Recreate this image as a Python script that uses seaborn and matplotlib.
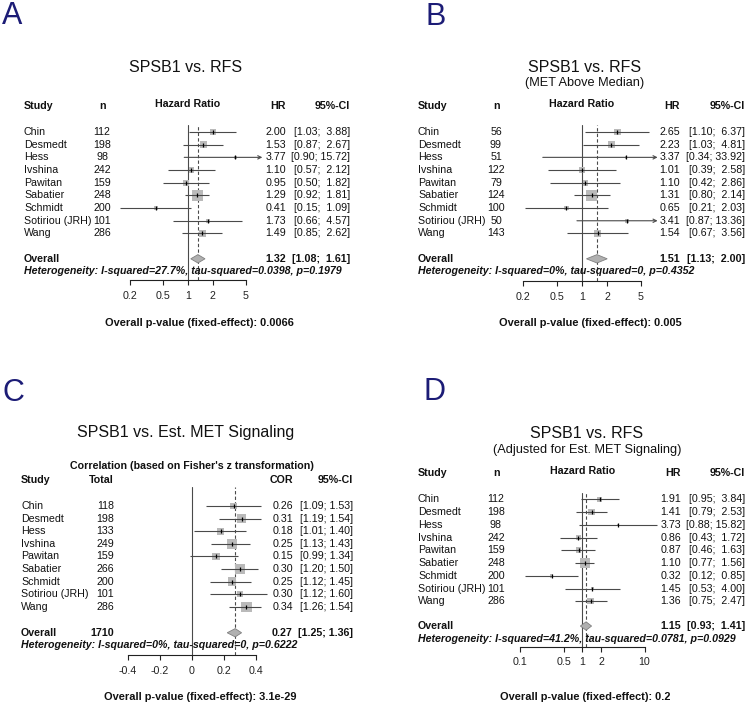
import numpy as np
import pandas as pd
import matplotlib.pyplot as plt
import matplotlib.transforms as mtransforms
from matplotlib.ticker import NullLocator
import seaborn as sns

studies = ['Chin', 'Desmedt', 'Hess', 'Ivshina', 'Pawitan', 'Sabatier', 'Schmidt', 'Sotiriou (JRH)', 'Wang']

# panel A - SPSB1 vs. RFS
n_a = [112, 198, 98, 242, 159, 248, 200, 101, 286]
hr_a = [2.00, 1.53, 3.77, 1.10, 0.95, 1.29, 0.41, 1.73, 1.49]
lo_a = [1.03, 0.87, 0.90, 0.57, 0.50, 0.92, 0.15, 0.66, 0.85]
hi_a = [3.88, 2.67, 15.72, 2.12, 1.82, 1.81, 1.09, 4.57, 2.62]
overall_a = (1.32, 1.08, 1.61)
het_a = 'Heterogeneity: I-squared=27.7%, tau-squared=0.0398, p=0.1979'
pval_a = '0.0066'

# panel B - SPSB1 vs. RFS (MET above median)
n_b = [56, 99, 51, 122, 79, 124, 100, 50, 143]
hr_b = [2.65, 2.23, 3.37, 1.01, 1.10, 1.31, 0.65, 3.41, 1.54]
lo_b = [1.10, 1.03, 0.34, 0.39, 0.42, 0.80, 0.21, 0.87, 0.67]
hi_b = [6.37, 4.81, 33.92, 2.58, 2.86, 2.14, 2.03, 13.36, 3.56]
overall_b = (1.51, 1.13, 2.00)
het_b = 'Heterogeneity: I-squared=0%, tau-squared=0, p=0.4352'
pval_b = '0.005'

# panel C - SPSB1 vs. Est. MET signaling (correlation)
n_c = [118, 198, 133, 249, 159, 266, 200, 101, 286]
total_c = 1710
cor_c = [0.26, 0.31, 0.18, 0.25, 0.15, 0.30, 0.25, 0.30, 0.34]
lo_c = [0.09, 0.17, 0.01, 0.12, -0.01, 0.18, 0.11, 0.11, 0.23]
hi_c = [0.43, 0.43, 0.34, 0.36, 0.29, 0.41, 0.37, 0.47, 0.43]
ci_text_c = ['[1.09; 1.53]', '[1.19; 1.54]', '[1.01; 1.40]', '[1.13; 1.43]', '[0.99; 1.34]',
             '[1.20; 1.50]', '[1.12; 1.45]', '[1.12; 1.60]', '[1.26; 1.54]']
overall_c = (0.27, 0.22, 0.31)
overall_ci_text_c = '[1.25; 1.36]'
het_c = 'Heterogeneity: I-squared=0%, tau-squared=0, p=0.6222'
pval_c = '3.1e-29'

# panel D - SPSB1 vs. RFS adjusted for Est. MET signaling
n_d = [112, 198, 98, 242, 159, 248, 200, 101, 286]
hr_d = [1.91, 1.41, 3.73, 0.86, 0.87, 1.10, 0.32, 1.45, 1.36]
lo_d = [0.95, 0.79, 0.88, 0.43, 0.46, 0.77, 0.12, 0.53, 0.75]
hi_d = [3.84, 2.53, 15.82, 1.72, 1.63, 1.56, 0.85, 4.00, 2.47]
overall_d = (1.15, 0.93, 1.41)
het_d = 'Heterogeneity: I-squared=41.2%, tau-squared=0.0781, p=0.0929'
pval_d = '0.2'

sns.set_theme(style='white')
plt.rcParams['font.family'] = ['Liberation Sans', 'DejaVu Sans']

W, H = 750, 706
fig = plt.figure(figsize=(7.5, 7.06), dpi=100)

SQ = '#bababa'
LINE = '#4a4a4a'
NAVY = '#1c1c76'
FS = 7.7


def fx(px):
    return px / W


def fy(py):
    return 1 - py / H


def make_ax(x0, x1, ytop, ybot, row0, step, ref_px, scale, log=True):
    ax = fig.add_axes([fx(x0), fy(ybot), (x1 - x0) / W, (ybot - ytop) / H])
    ax.patch.set_alpha(0)
    if log:
        ax.set_xscale('log')
        xlim = (10 ** ((x0 - ref_px) / scale), 10 ** ((x1 - ref_px) / scale))
    else:
        xlim = ((x0 - ref_px) / scale, (x1 - ref_px) / scale)
    ylim = ((ybot - row0) / step, (ytop - row0) / step)
    return ax, xlim, ylim


def col_text(ax, px, row, s, ha='left', bold=False, italic=False):
    tr = mtransforms.blended_transform_factory(fig.transFigure, ax.transData)
    ax.text(fx(px), row, s, transform=tr, ha=ha, va='center', fontsize=FS,
            fontweight='bold' if bold else 'normal', fontstyle='italic' if italic else 'normal',
            clip_on=False, color='#111111')


def forest(ax, xlim, ylim, est, lo, hi, w, overall, ov_row, ref, ticks, ticklabels,
           max_side, clip=None):
    rows = np.arange(len(est))
    for r, l, h in zip(rows, lo, hi):
        if clip is not None and h > clip:
            ax.annotate('', xy=(clip, r), xytext=(l, r),
                        arrowprops=dict(arrowstyle='->', color=LINE, lw=0.8,
                                        shrinkA=0, shrinkB=0, mutation_scale=6), zorder=2)
        else:
            ax.plot([l, h], [r, r], color=LINE, lw=0.8, solid_capstyle='butt', zorder=2)
    df = pd.DataFrame({'est': est, 'row': rows, 'w': w})
    sns.scatterplot(data=df, x='est', y='row', size='w', sizes=(0, (max_side * 0.72) ** 2),
                    size_norm=(0, max(w)), marker='s', color=SQ, linewidth=0,
                    legend=False, ax=ax, zorder=1)
    ax.scatter(est, rows, marker='|', s=6, color='black', linewidths=0.9, zorder=3)
    e, l, h = overall
    ax.fill([l, e, h, e], [ov_row, ov_row - 0.33, ov_row, ov_row + 0.33],
            color='#b0b0b0', ec='#808080', lw=0.6, zorder=2)
    ax.axvline(ref, color=LINE, lw=0.8, zorder=0)
    ax.axvline(e, color=LINE, lw=0.8, ls=(0, (3, 2)), zorder=0)
    ax.set_xlim(xlim)
    ax.set_ylim(ylim)
    ax.set_xlabel('')
    ax.set_ylabel('')
    ax.set_yticks([])
    ax.set_xticks(ticks)
    ax.set_xticklabels(ticklabels)
    ax.xaxis.set_minor_locator(NullLocator())
    for s in ['top', 'right', 'left']:
        ax.spines[s].set_visible(False)
    ax.spines['bottom'].set_bounds(ticks[0], ticks[-1])
    ax.spines['bottom'].set_color('#222222')
    ax.spines['bottom'].set_linewidth(0.8)
    ax.tick_params(axis='x', bottom=True, length=3.6, width=0.8, color='#222222',
                   labelsize=FS, labelcolor='#222222', pad=4, direction='out')


def hr_weights(lo, hi):
    se = (np.log(hi) - np.log(lo)) / 3.92
    return list(1 / se ** 2)


def fmt_ci(l, h):
    return f'[{l:.2f}; {h:5.2f}]'


def hr_panel(x0, x1, ytop, ybot, row0, step, ref_px, scale, est, lo, hi, n, overall, ov_row,
             het_row, het, xs, ticks, ticklabels, max_side, clip, head_row, hr_head_row):
    ax, xlim, ylim = make_ax(x0, x1, ytop, ybot, row0, step, ref_px, scale)
    forest(ax, xlim, ylim, est, lo, hi, hr_weights(lo, hi), overall, ov_row, 1,
           ticks, ticklabels, max_side, clip)
    x_study, x_n, x_hr, x_ci = xs
    col_text(ax, x_study, head_row, 'Study', bold=True)
    col_text(ax, x_n, head_row, 'n', ha='center', bold=True)
    col_text(ax, ref_px, hr_head_row, 'Hazard Ratio', ha='center', bold=True)
    col_text(ax, x_hr, head_row, 'HR', ha='right', bold=True)
    col_text(ax, x_ci, head_row, '95%-CI', ha='right', bold=True)
    for r, (s, k, e, l, h) in enumerate(zip(studies, n, est, lo, hi)):
        col_text(ax, x_study, r, s)
        col_text(ax, x_n, r, str(k), ha='center')
        col_text(ax, x_hr, r, f'{e:.2f}', ha='right')
        col_text(ax, x_ci, r, fmt_ci(l, h), ha='right')
    e, l, h = overall
    col_text(ax, x_study, ov_row, 'Overall', bold=True)
    col_text(ax, x_hr, ov_row, f'{e:.2f}', ha='right', bold=True)
    col_text(ax, x_ci, ov_row, fmt_ci(l, h), ha='right', bold=True)
    col_text(ax, x_study, het_row, het, bold=True, italic=True)
    return ax


# ---- panel A ----
hr_panel(110, 275, 125, 280, 132, 12.68, 188, 82.3, hr_a, lo_a, hi_a, n_a, overall_a, 10.0, 11.0,
         het_a, (24, 102, 286, 350), [0.2, 0.5, 1, 2, 5], ['0.2', '0.5', '1', '2', '5'], 11, 8,
         -2.05, -2.2)

# ---- panel B ----
hr_panel(505, 665, 125, 281, 132, 12.68, 582, 83.7, hr_b, lo_b, hi_b, n_b, overall_b, 10.0, 11.0,
         het_b, (418, 496, 680, 745), [0.2, 0.5, 1, 2, 5], ['0.2', '0.5', '1', '2', '5'], 11, 8,
         -2.05, -2.2)

# ---- panel D ----
hr_panel(505, 670, 493, 646.7, 499.3, 12.75, 582.3, 62.2, hr_d, lo_d, hi_d, n_d, overall_d, 9.94, 10.98,
         het_d, (418, 496, 681, 745), [0.1, 0.5, 1, 2, 10], ['0.1', '0.5', '1', '2', '10'], 10.5, None,
         -2.08, -2.2)

# ---- panel C ----
ax_c, xlim_c, ylim_c = make_ax(100, 290, 487, 655, 506, 12.6, 192, 160, log=False)
forest(ax_c, xlim_c, ylim_c, cor_c, lo_c, hi_c, [k - 3 for k in n_c], overall_c, 10.06, 0,
       [-0.4, -0.2, 0, 0.2, 0.4], ['-0.4', '-0.2', '0', '0.2', '0.4'], 10.5)
col_text(ax_c, 192, -3.17, "Correlation (based on Fisher's z transformation)", ha='center', bold=True)
col_text(ax_c, 21, -2.06, 'Study', bold=True)
col_text(ax_c, 114, -2.06, 'Total', ha='right', bold=True)
col_text(ax_c, 293, -2.06, 'COR', ha='right', bold=True)
col_text(ax_c, 353, -2.06, '95%-CI', ha='right', bold=True)
for r, (s, k, e, c) in enumerate(zip(studies, n_c, cor_c, ci_text_c)):
    col_text(ax_c, 21, r, s)
    col_text(ax_c, 114, r, str(k), ha='right')
    col_text(ax_c, 293, r, f'{e:.2f}', ha='right')
    col_text(ax_c, 353, r, c, ha='right')
col_text(ax_c, 21, 10.06, 'Overall', bold=True)
col_text(ax_c, 114, 10.06, str(total_c), ha='right', bold=True)
col_text(ax_c, 293, 10.06, f'{overall_c[0]:.2f}', ha='right', bold=True)
col_text(ax_c, 353, 10.06, overall_ci_text_c, ha='right', bold=True)
col_text(ax_c, 21, 11.0, het_c, bold=True, italic=True)

# titles, p-values and panel letters
for x, y, s in [(186, 67, 'SPSB1 vs. RFS'), (585, 67, 'SPSB1 vs. RFS'),
                (186, 433, 'SPSB1 vs. Est. MET Signaling'), (587, 433, 'SPSB1 vs. RFS')]:
    fig.text(fx(x), fy(y), s, ha='center', va='center', fontsize=11.5, color='#111111')
fig.text(fx(585), fy(83), '(MET Above Median)', ha='center', va='center', fontsize=9.2, color='#111111')
fig.text(fx(587), fy(450), '(Adjusted for Est. MET Signaling)', ha='center', va='center', fontsize=9.2,
         color='#111111')

for x, y, p in [(199, 323, pval_a), (590, 323, pval_b), (200, 697, pval_c), (585, 697, pval_d)]:
    fig.text(fx(x), fy(y), f'Overall p-value (fixed-effect): {p}', ha='center', va='center',
             fontsize=7.9, fontweight='bold', color='#111111')

for x, y, s in [(2, 16, 'A'), (426, 17, 'B'), (2, 393, 'C'), (424, 392, 'D')]:
    fig.text(fx(x), fy(y), s, ha='left', va='center', fontsize=22, color=NAVY)

fig.savefig('out.png', dpi=100, facecolor='white')
